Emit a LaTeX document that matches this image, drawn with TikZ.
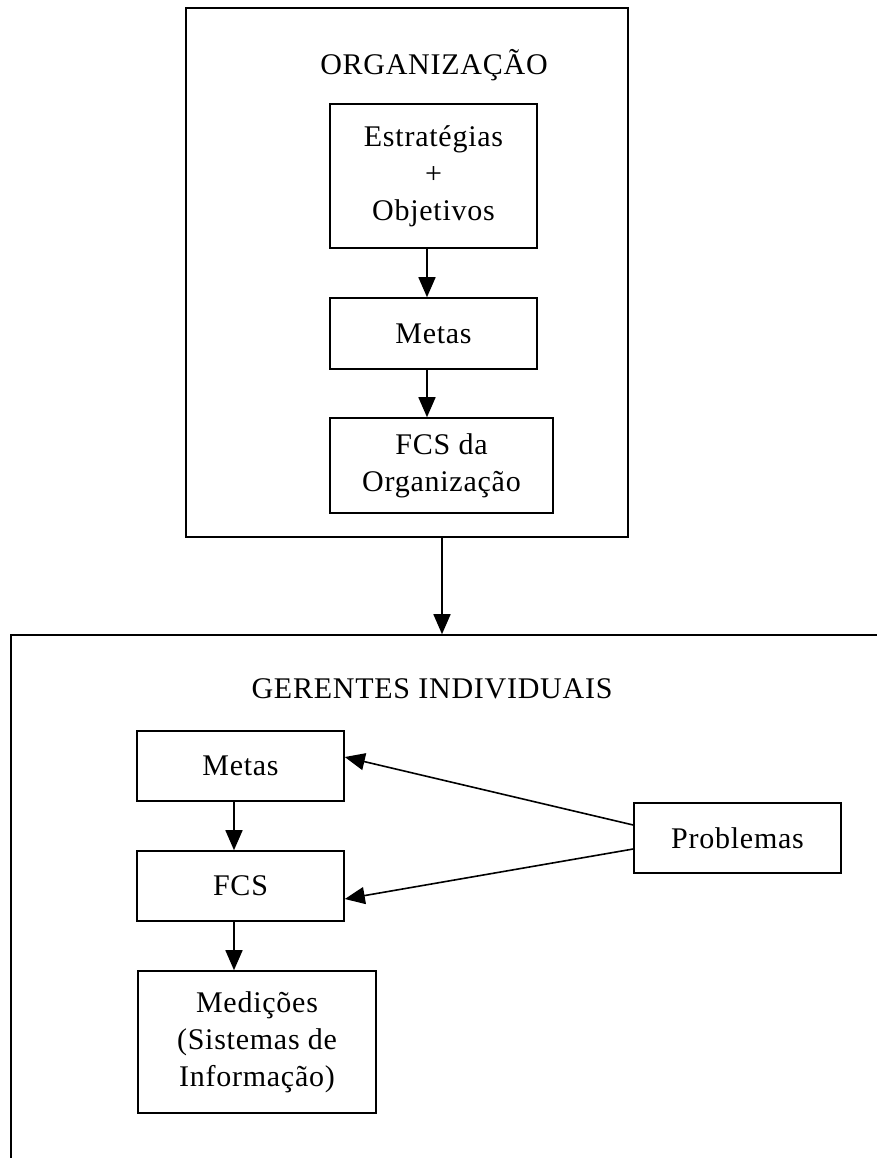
\documentclass[tikz,border=0pt]{standalone}
\usepackage{fontspec}
\setmainfont[LetterSpace=2.5]{Liberation Serif}
\usetikzlibrary{arrows.meta}

\begin{document}
\begin{tikzpicture}[x=1bp,y=-1bp,
  every node/.style={font=\fontsize{30bp}{37bp}\selectfont},
  box/.style={draw, line width=1.6bp, inner sep=0pt, align=center},
  frame/.style={draw, line width=1.6bp, inner sep=0pt},
  arr/.style={line width=1.6bp, -{Triangle[length=20bp,width=17bp]}},
  heading/.style={anchor=base, inner sep=0pt}]
\useasboundingbox (0,0) rectangle (877,1158);
\fill[white] (0,0) rectangle (877,1158);

% organisation level
\node[frame, minimum width=442bp, minimum height=529bp] (org) at (407,272.5) {};
\node[heading] (orgtitle) at (434,74) {ORGANIZAÇÃO};
\node[box, minimum width=207bp, minimum height=144bp] (estr) at (433.5,176)
  {Estratégias\\+\\Objetivos};
\node[box, minimum width=207bp, minimum height=71bp] (metasA) at (433.5,333.5) {Metas};
\node[box, minimum width=223bp, minimum height=95bp] (fcsorg) at (441.5,465.5)
  {FCS da\\Organização};

\draw[arr] ([xshift=-6.5bp]estr.south) -- ([xshift=-6.5bp]metasA.north);
\draw[arr] ([xshift=-6.5bp]metasA.south) -- ([xshift=-6.5bp]metasA.south |- fcsorg.north);

% individual managers level (runs past the page edges)
\begin{scope}
\clip (0,0) rectangle (877,1158);
\node[frame, minimum width=949bp, minimum height=615bp] (ger) at (485.5,942.5) {};
\end{scope}
\node[heading] (gertitle) at (432,698) {GERENTES INDIVIDUAIS};

\draw[arr] ([xshift=35bp]org.south) -- ([xshift=35bp]org.south |- ger.north);

\node[box, minimum width=207bp, minimum height=70bp] (metasB) at (240.5,766) {Metas};
\node[box, minimum width=207bp, minimum height=70bp] (fcsB) at (240.5,886) {FCS};
\node[box, minimum width=238bp, minimum height=142bp] (med) at (257,1042)
  {Medições\\(Sistemas de\\Informação)};
\node[box, minimum width=207bp, minimum height=70bp] (prob) at (737.5,838) {Problemas};

\draw[arr] ([xshift=-6.5bp]metasB.south) -- ([xshift=-6.5bp]fcsB.north);
\draw[arr] ([xshift=-6.5bp]fcsB.south) -- ([xshift=-6.5bp]fcsB.south |- med.north);
\draw[arr] ([yshift=13bp]prob.west) -- ([yshift=9bp]metasB.east);
\draw[arr] ([yshift=-11bp]prob.west) -- ([yshift=-13bp]fcsB.east);
\end{tikzpicture}
\end{document}
